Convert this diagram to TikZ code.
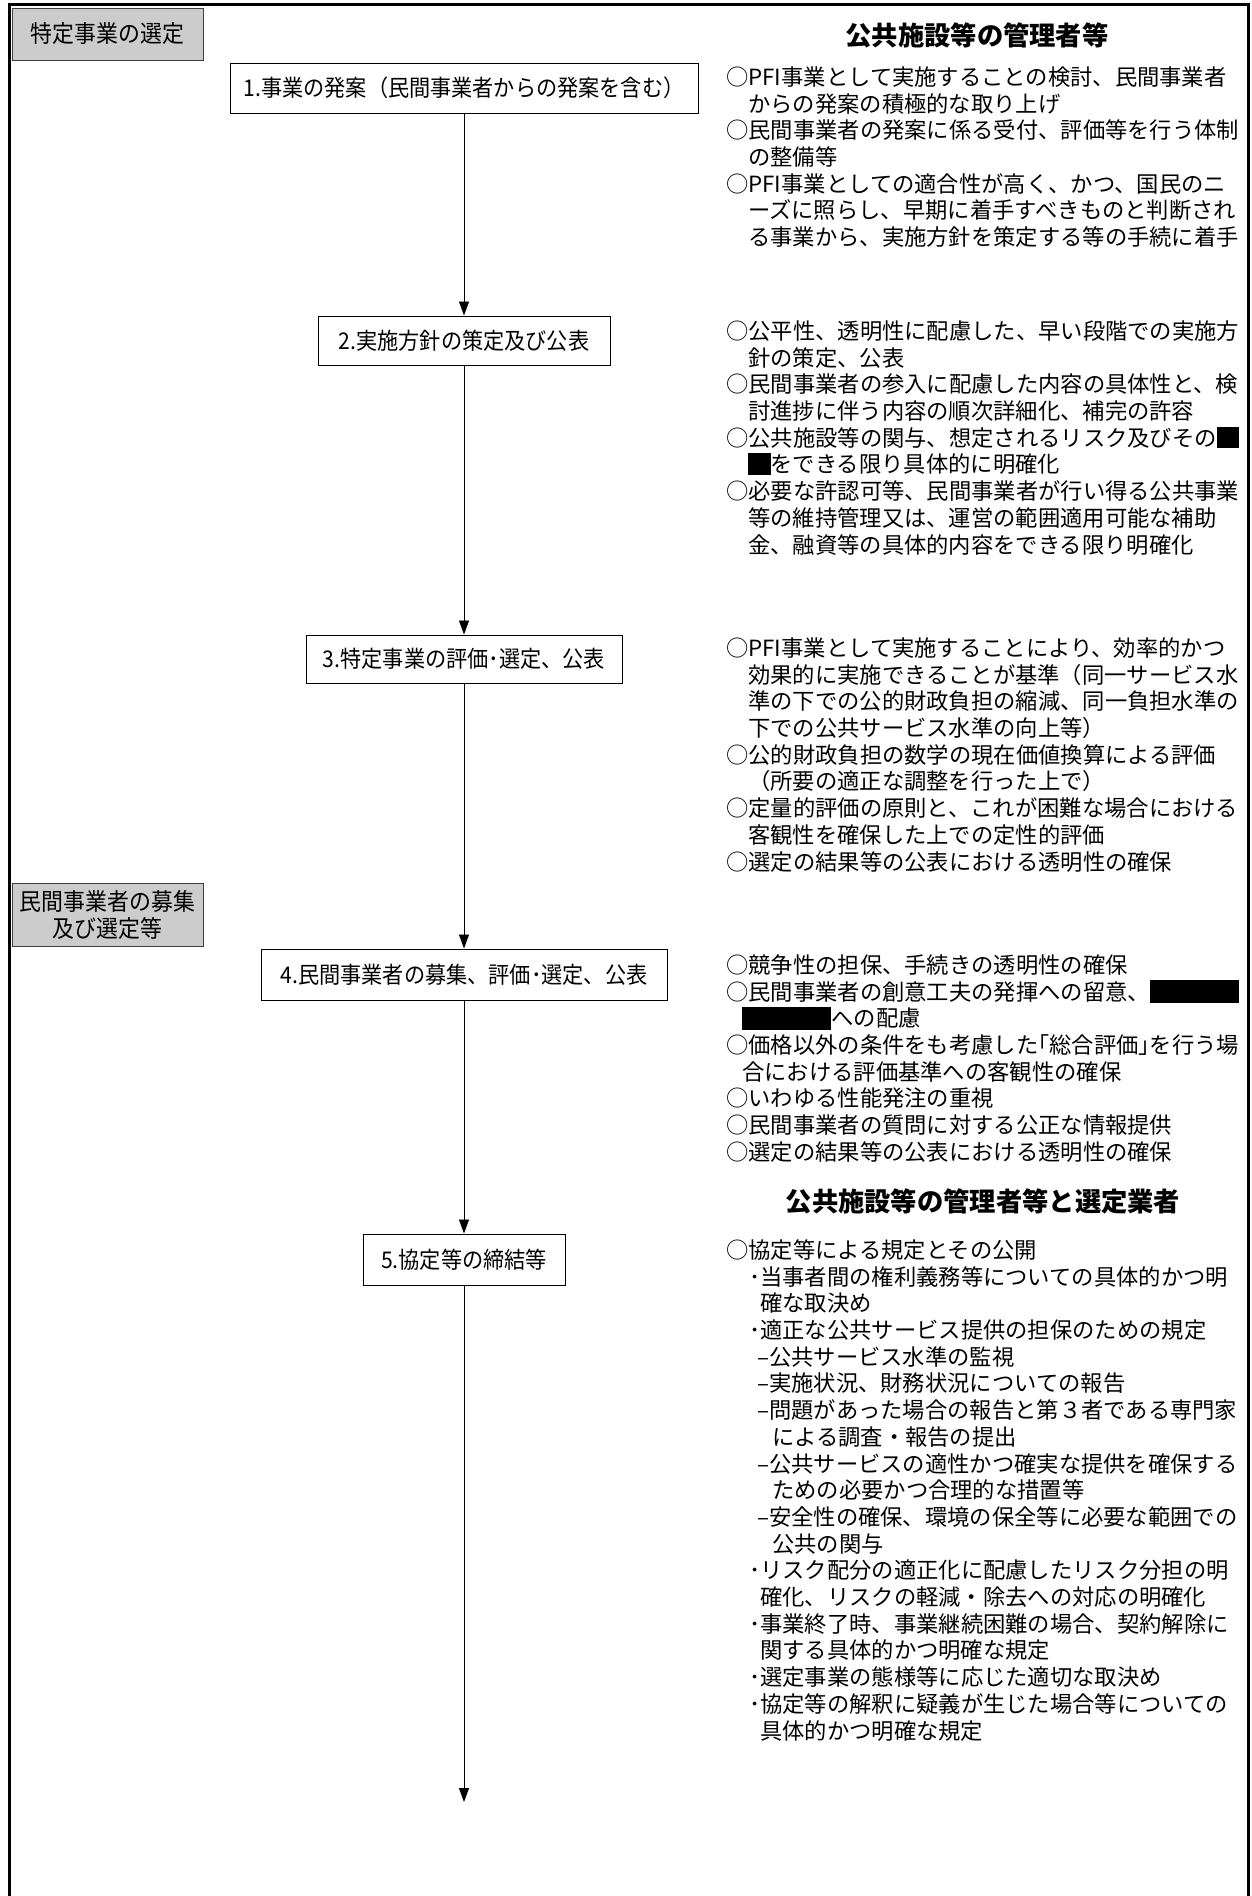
\documentclass[tikz,border=0pt]{standalone}
\usepackage{fontspec}
\setmainfont{Noto Sans CJK JP}
\newfontfamily\gothn[FakeStretch=0.92]{Noto Sans CJK JP}
\usetikzlibrary{arrows.meta}
\newcommand\blkone{\rule[-0.1em]{1em}{0.98em}}
\newcommand\blkfour{\rule[-0.15em]{4.0em}{1.05em}}
\begin{document}
\begin{tikzpicture}[x=1pt,y=-1pt,
  txt/.style={font=\fontsize{22.3}{26.7}\selectfont, anchor=base west, inner sep=0pt},
  stepbox/.style={draw, line width=1pt, fill=white, font=\gothn\fontsize{23}{27}\selectfont, inner sep=0pt},
  graybox/.style={draw=black!75, line width=1pt, fill=gray!40, font=\gothn\fontsize{23.8}{26.6}\selectfont, align=center, inner sep=0pt},
  head/.style={font=\bfseries\fontsize{26.3}{30}\selectfont, inner sep=0pt, anchor=base},
  arr/.style={-{Triangle[length=14pt,width=10pt]}, line width=0.9pt}]
\useasboundingbox (0,0) rectangle (1252,1896);
\fill[white] (0,0) rectangle (1252,1896);
% frame
\draw[line width=3pt] (9,1900) -- (9,4) -- (1248,4) -- (1248,1900);

% phase labels
\node[graybox, minimum width=191, minimum height=52] (g1) at (107.5,34) {特定事業の選定};
\node[graybox, minimum width=191, minimum height=63] (g2) at (107.5,915) {民間事業者の募集\\及び選定等};

% headers
\node[head] (h1) at (977,45) {公共施設等の管理者等};
\node[head] (h2) at (983,1211) {公共施設等の管理者等と選定業者};

% steps
\node[stepbox, minimum width=468, minimum height=50] (b1) at (464,88) {1.事業の発案（民間事業者からの発案を含む）};
\node[stepbox, minimum width=292, minimum height=49] (b2) at (464,340.5) {2.実施方針の策定及び公表};
\node[stepbox, minimum width=316, minimum height=48] (b3) at (464,659) {3.特定事業の評価･選定、公表};
\node[stepbox, minimum width=406, minimum height=51] (b4) at (464,974.5) {4.民間事業者の募集、評価･選定、公表};
\node[stepbox, minimum width=202, minimum height=51] (b5) at (464,1259.5) {5.協定等の締結等};
\coordinate (end) at (464,1802);

\draw[arr] (b1) -- (b2);
\draw[arr] (b2) -- (b3);
\draw[arr] (b3) -- (b4);
\draw[arr] (b4) -- (b5);
\draw[arr] (b5) -- (end);

% section 1
\foreach \x/\t [count=\i from 0] in {
 726/{○PFI事業として実施することの検討、民間事業者},
 748/{からの発案の積極的な取り上げ},
 726/{○民間事業者の発案に係る受付、評価等を行う体制},
 748/{の整備等},
 726/{○PFI事業としての適合性が高く、かつ、国民のニ},
 748/{ーズに照らし、早期に着手すべきものと判断され},
 748/{る事業から、実施方針を策定する等の手続に着手}}
 \node[txt] (s1-\i) at (\x, 85.4+\i*26.7) {\t};

% section 2
\foreach \x/\t [count=\i from 0] in {
 726/{○公平性、透明性に配慮した、早い段階での実施方},
 748/{針の策定、公表},
 726/{○民間事業者の参入に配慮した内容の具体性と、検},
 748/{討進捗に伴う内容の順次詳細化、補完の許容},
 726/{○公共施設等の関与、想定されるリスク及びその\blkone},
 748/{\blkone をできる限り具体的に明確化},
 726/{○必要な許認可等、民間事業者が行い得る公共事業},
 748/{等の維持管理又は、運営の範囲適用可能な補助},
 748/{金、融資等の具体的内容をできる限り明確化}}
 \node[txt] (s2-\i) at (\x, 339.4+\i*26.7) {\t};

% section 3
\foreach \x/\t [count=\i from 0] in {
 726/{○PFI事業として実施することにより、効率的かつ},
 748/{効果的に実施できることが基準（同一サービス水},
 748/{準の下での公的財政負担の縮減、同一負担水準の},
 748/{下での公共サービス水準の向上等）},
 726/{○公的財政負担の数学の現在価値換算による評価},
 748/{（所要の適正な調整を行った上で）},
 726/{○定量的評価の原則と、これが困難な場合における},
 748/{客観性を確保した上での定性的評価},
 726/{○選定の結果等の公表における透明性の確保}}
 \node[txt] (s3-\i) at (\x, 656.4+\i*26.7) {\t};

% section 4
\foreach \x/\t [count=\i from 0] in {
 726/{○競争性の担保、手続きの透明性の確保},
 726/{○民間事業者の創意工夫の発揮への留意、\blkfour},
 742/{\blkfour への配慮},
 726/{○価格以外の条件をも考慮した｢総合評価｣を行う場},
 742/{合における評価基準への客観性の確保},
 726/{○いわゆる性能発注の重視},
 726/{○民間事業者の質問に対する公正な情報提供},
 726/{○選定の結果等の公表における透明性の確保}}
 \node[txt] (s4-\i) at (\x, 973.4+\i*26.7) {\t};

% section 5
\foreach \x/\t [count=\i from 0] in {
 726/{○協定等による規定とその公開},
 749/{･当事者間の権利義務等についての具体的かつ明},
 760/{確な取決め},
 749/{･適正な公共サービス提供の担保のための規定},
 757/{–公共サービス水準の監視},
 757/{–実施状況、財務状況についての報告},
 757/{–問題があった場合の報告と第３者である専門家},
 772/{による調査・報告の提出},
 757/{–公共サービスの適性かつ確実な提供を確保する},
 772/{ための必要かつ合理的な措置等},
 757/{–安全性の確保、環境の保全等に必要な範囲での},
 772/{公共の関与},
 749/{･リスク配分の適正化に配慮したリスク分担の明},
 760/{確化、リスクの軽減・除去への対応の明確化},
 749/{･事業終了時、事業継続困難の場合、契約解除に},
 760/{関する具体的かつ明確な規定},
 749/{･選定事業の態様等に応じた適切な取決め},
 749/{･協定等の解釈に疑義が生じた場合等についての},
 760/{具体的かつ明確な規定}}
 \node[txt] (s5-\i) at (\x, 1258.4+\i*26.7) {\t};
\end{tikzpicture}
\end{document}
